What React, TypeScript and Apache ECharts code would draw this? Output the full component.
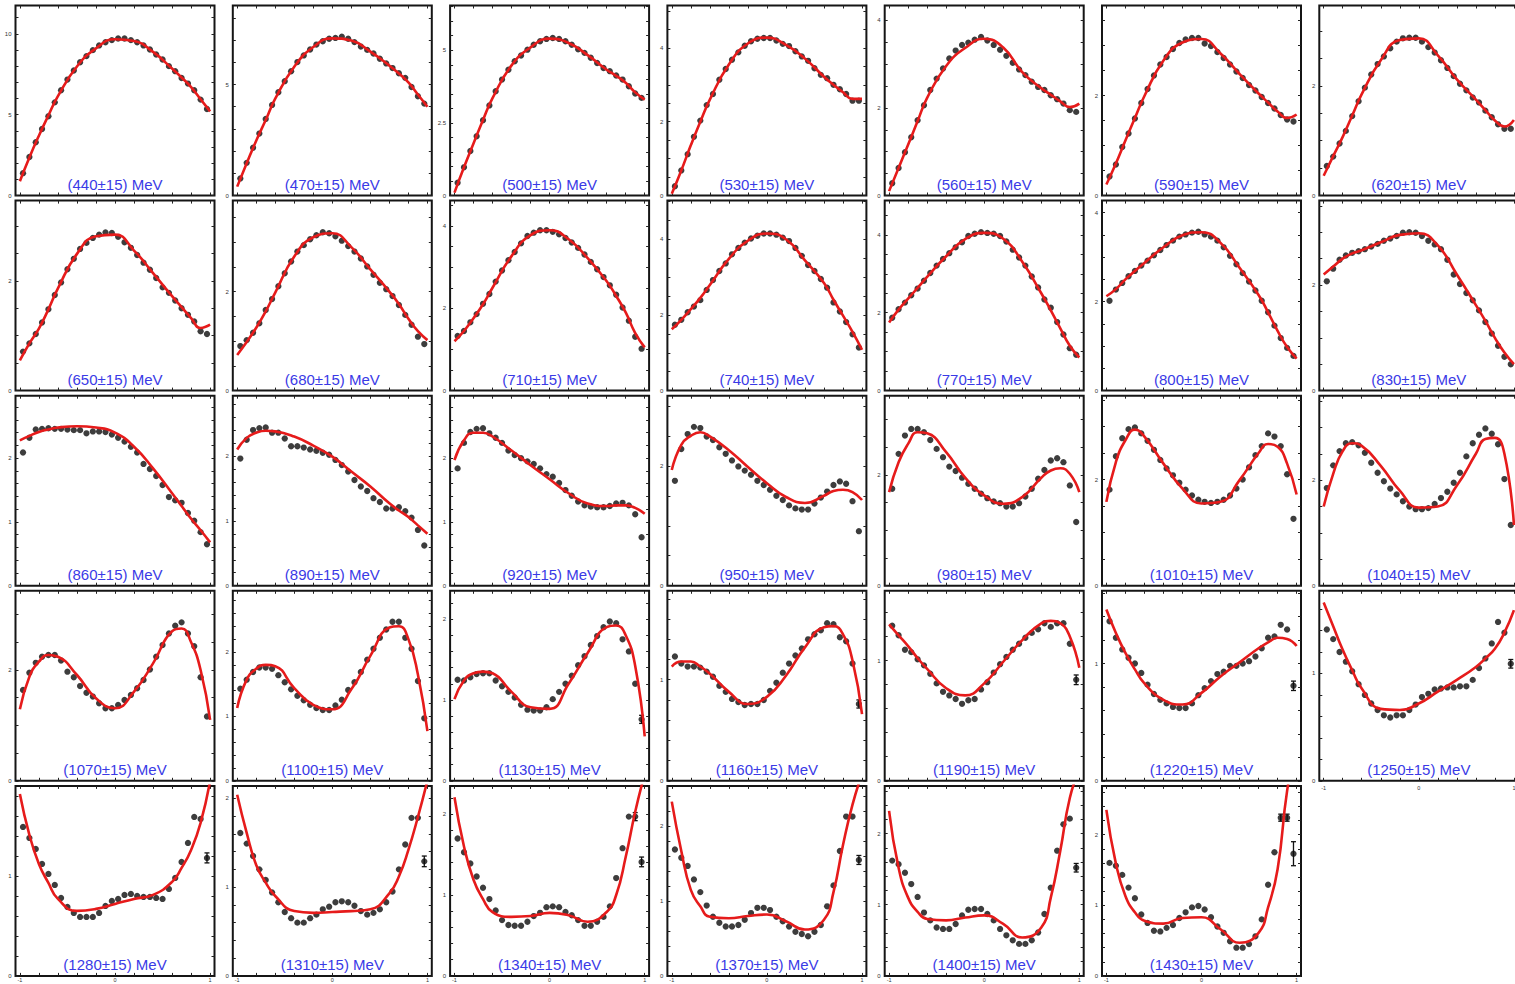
import React, { useEffect, useRef } from 'react';
import * as echarts from 'echarts';

// ---------- data ----------
const energies = [440, 470, 500, 530, 560, 590, 620, 650, 680, 710, 740, 770, 800, 830, 860, 890, 920, 950, 980, 1010, 1040, 1070, 1100, 1130, 1160, 1190, 1220, 1250, 1280, 1310, 1340, 1370, 1400, 1430];

const cosTheta = [-0.967, -0.9, -0.833, -0.767, -0.7, -0.633, -0.567, -0.5, -0.433, -0.367, -0.3, -0.233, -0.167, -0.1, -0.033, 0.033, 0.1, 0.167, 0.233, 0.3, 0.367, 0.433, 0.5, 0.567, 0.633, 0.7, 0.767, 0.833, 0.9, 0.967];
const curveX = [-1, -0.9, -0.8, -0.7, -0.6, -0.4, -0.2, 0, 0.2, 0.4, 0.6, 0.7, 0.8, 0.9, 1];

const xTickValues = [-1, -0.8, -0.6, -0.4, -0.2, 0, 0.2, 0.4, 0.6, 0.8, 1];
const xLabelValues = [-1, 0, 1];

const yMax = [11.75, 8.56, 6.54, 5.15, 4.34, 3.8, 3.47,
  3.46, 3.84, 4.62, 5.02, 4.88, 4.27, 3.6,
  2.98, 2.93, 2.98, 3.17, 3.43, 3.58, 3.6,
  3.43, 2.95, 2.35, 1.88, 1.58, 1.62, 1.77,
  1.9, 2.14, 2.35, 2.54, 2.67, 2.69];

const yLabelSets = [[0, 5, 10], [0, 5], [0, 2.5, 5], [0, 2, 4], [0, 2, 4], [0, 2], [0, 2],
  [0, 2], [0, 2], [0, 2, 4], [0, 2, 4], [0, 2, 4], [0, 2, 4], [0, 2],
  [0, 1, 2], [0, 1, 2], [0, 1, 2], [0, 2], [0, 2], [0, 2], [0, 2],
  [0, 2], [0, 1, 2], [0, 1, 2], [0, 1], [0, 1], [0, 1], [0, 1],
  [0, 1], [0, 1, 2], [0, 1, 2], [0, 1, 2], [0, 1, 2], [0, 1, 2]];

const yTickStep = [1, 1, 0.5, 0.5, 0.5, 0.5, 0.5,
  0.5, 0.5, 0.5, 0.5, 0.5, 0.5, 0.5,
  0.2, 0.2, 0.2, 0.5, 0.5, 0.5, 0.5,
  0.5, 0.2, 0.2, 0.2, 0.2, 0.2, 0.2,
  0.2, 0.2, 0.2, 0.2, 0.2, 0.2];

// measured points (30 cos-theta bins per energy bin)
const d440 = [1.38, 2.38, 3.29, 4.11, 4.90, 5.76, 6.51, 7.17, 7.73, 8.24, 8.62, 8.99, 9.28, 9.48, 9.61, 9.71, 9.71, 9.61, 9.48, 9.28, 9.03, 8.72, 8.41, 8.00, 7.69, 7.27, 6.92, 6.51, 5.93, 5.35];
const d470 = [0.77, 1.47, 2.15, 2.79, 3.45, 4.08, 4.65, 5.15, 5.60, 6.01, 6.31, 6.58, 6.80, 6.95, 7.06, 7.10, 7.15, 7.06, 6.91, 6.71, 6.56, 6.40, 6.16, 5.95, 5.74, 5.51, 5.30, 4.89, 4.47, 4.14];
const d500 = [0.44, 0.97, 1.53, 2.04, 2.59, 3.10, 3.59, 3.99, 4.33, 4.62, 4.82, 5.02, 5.19, 5.31, 5.39, 5.42, 5.39, 5.31, 5.19, 5.03, 4.91, 4.74, 4.56, 4.39, 4.28, 4.13, 3.99, 3.76, 3.51, 3.36];
const d530 = [0.25, 0.68, 1.12, 1.59, 2.03, 2.45, 2.75, 3.14, 3.43, 3.68, 3.88, 4.06, 4.18, 4.25, 4.27, 4.27, 4.20, 4.11, 4.05, 3.91, 3.77, 3.65, 3.45, 3.27, 3.18, 3.00, 2.88, 2.75, 2.57, 2.57];
const d560 = [0.28, 0.63, 0.99, 1.33, 1.72, 2.06, 2.41, 2.67, 2.90, 3.13, 3.31, 3.44, 3.49, 3.56, 3.62, 3.54, 3.44, 3.33, 3.19, 3.03, 2.88, 2.75, 2.60, 2.48, 2.41, 2.29, 2.20, 2.10, 1.95, 1.91];
const d590 = [0.38, 0.62, 0.97, 1.24, 1.54, 1.85, 2.13, 2.40, 2.62, 2.77, 2.93, 3.05, 3.12, 3.15, 3.15, 3.04, 2.99, 2.87, 2.75, 2.62, 2.48, 2.35, 2.21, 2.10, 1.97, 1.85, 1.74, 1.61, 1.52, 1.48];
const d620 = [0.54, 0.71, 0.95, 1.18, 1.45, 1.72, 1.97, 2.21, 2.40, 2.54, 2.69, 2.81, 2.87, 2.88, 2.88, 2.81, 2.71, 2.61, 2.47, 2.33, 2.18, 2.04, 1.92, 1.79, 1.70, 1.55, 1.43, 1.30, 1.22, 1.22];
const d650 = [0.71, 0.86, 1.03, 1.24, 1.48, 1.74, 1.97, 2.21, 2.40, 2.58, 2.69, 2.78, 2.84, 2.88, 2.87, 2.80, 2.70, 2.60, 2.47, 2.33, 2.20, 2.05, 1.88, 1.78, 1.64, 1.50, 1.38, 1.26, 1.08, 1.03];
const d680 = [0.90, 1.02, 1.17, 1.36, 1.63, 1.85, 2.11, 2.37, 2.61, 2.81, 2.94, 3.06, 3.14, 3.20, 3.18, 3.12, 3.03, 2.92, 2.81, 2.67, 2.51, 2.34, 2.18, 2.05, 1.91, 1.73, 1.53, 1.33, 1.09, 0.94];
const d710 = [1.33, 1.45, 1.66, 1.86, 2.11, 2.35, 2.65, 2.92, 3.17, 3.37, 3.58, 3.76, 3.84, 3.90, 3.90, 3.86, 3.80, 3.71, 3.60, 3.47, 3.31, 3.13, 2.95, 2.76, 2.56, 2.33, 2.02, 1.70, 1.31, 1.02];
const d740 = [1.74, 1.87, 2.07, 2.22, 2.39, 2.66, 2.92, 3.16, 3.36, 3.60, 3.77, 3.91, 4.02, 4.09, 4.15, 4.15, 4.12, 4.04, 3.95, 3.77, 3.56, 3.32, 3.16, 2.95, 2.72, 2.33, 2.09, 1.81, 1.49, 1.14];
const d770 = [1.87, 2.09, 2.26, 2.45, 2.62, 2.82, 3.02, 3.21, 3.38, 3.53, 3.68, 3.81, 3.97, 4.03, 4.07, 4.05, 4.03, 3.97, 3.83, 3.62, 3.42, 3.21, 2.93, 2.65, 2.34, 2.13, 1.76, 1.44, 1.09, 0.92];
const d800 = [2.02, 2.27, 2.42, 2.57, 2.69, 2.81, 2.92, 3.04, 3.16, 3.27, 3.37, 3.46, 3.51, 3.55, 3.57, 3.51, 3.46, 3.37, 3.22, 3.03, 2.84, 2.64, 2.45, 2.25, 2.02, 1.76, 1.46, 1.18, 0.96, 0.78];
const d830 = [2.07, 2.31, 2.48, 2.56, 2.61, 2.64, 2.68, 2.73, 2.78, 2.84, 2.88, 2.93, 2.99, 3.00, 2.99, 2.93, 2.84, 2.77, 2.68, 2.48, 2.20, 2.02, 1.85, 1.71, 1.52, 1.30, 1.08, 0.85, 0.64, 0.50];
const d860 = [2.09, 2.32, 2.45, 2.46, 2.47, 2.46, 2.46, 2.45, 2.44, 2.44, 2.39, 2.42, 2.42, 2.41, 2.37, 2.32, 2.26, 2.18, 2.09, 1.91, 1.83, 1.72, 1.58, 1.39, 1.34, 1.30, 1.14, 1.02, 0.84, 0.65];
const d890 = [1.96, 2.25, 2.40, 2.43, 2.44, 2.36, 2.36, 2.27, 2.15, 2.15, 2.13, 2.10, 2.08, 2.05, 2.02, 1.94, 1.86, 1.76, 1.63, 1.53, 1.46, 1.35, 1.29, 1.19, 1.19, 1.21, 1.15, 1.05, 0.86, 0.62];
const d920 = [1.84, 2.24, 2.41, 2.46, 2.47, 2.39, 2.32, 2.24, 2.12, 2.05, 2.00, 1.95, 1.91, 1.84, 1.75, 1.71, 1.61, 1.50, 1.41, 1.32, 1.26, 1.24, 1.23, 1.23, 1.25, 1.29, 1.30, 1.26, 1.12, 0.76];
const d950 = [1.75, 2.28, 2.53, 2.65, 2.63, 2.49, 2.43, 2.31, 2.20, 2.09, 1.99, 1.92, 1.85, 1.75, 1.68, 1.60, 1.50, 1.43, 1.34, 1.29, 1.27, 1.27, 1.37, 1.47, 1.57, 1.68, 1.74, 1.70, 1.41, 0.91];
const d980 = [1.75, 2.38, 2.71, 2.83, 2.83, 2.77, 2.63, 2.47, 2.32, 2.15, 2.07, 1.95, 1.84, 1.75, 1.66, 1.58, 1.52, 1.49, 1.43, 1.43, 1.49, 1.61, 1.75, 1.93, 2.09, 2.26, 2.30, 2.23, 1.81, 1.15];
const d1010 = [1.81, 2.44, 2.78, 2.95, 2.98, 2.87, 2.73, 2.56, 2.37, 2.21, 2.08, 1.94, 1.81, 1.70, 1.62, 1.58, 1.56, 1.58, 1.62, 1.70, 1.83, 2.00, 2.23, 2.46, 2.63, 2.87, 2.81, 2.63, 2.10, 1.26];
const d1040 = [1.85, 2.28, 2.55, 2.70, 2.72, 2.66, 2.52, 2.33, 2.14, 1.98, 1.84, 1.73, 1.60, 1.50, 1.45, 1.45, 1.47, 1.55, 1.66, 1.78, 1.95, 2.14, 2.45, 2.70, 2.86, 2.98, 2.88, 2.68, 2.02, 1.15];
const d1070 = [1.64, 1.95, 2.13, 2.24, 2.27, 2.27, 2.17, 1.97, 1.87, 1.71, 1.59, 1.52, 1.40, 1.31, 1.31, 1.37, 1.46, 1.55, 1.67, 1.82, 2.01, 2.24, 2.45, 2.66, 2.80, 2.86, 2.66, 2.43, 1.87, 1.16];
const d1100 = [1.43, 1.57, 1.69, 1.76, 1.76, 1.74, 1.64, 1.53, 1.42, 1.32, 1.25, 1.18, 1.13, 1.10, 1.10, 1.17, 1.26, 1.41, 1.53, 1.69, 1.88, 2.05, 2.22, 2.35, 2.47, 2.47, 2.22, 2.05, 1.55, 0.97];
const d1130 = [1.25, 1.24, 1.28, 1.32, 1.33, 1.33, 1.24, 1.17, 1.10, 1.03, 0.94, 0.88, 0.87, 0.87, 0.91, 1.01, 1.10, 1.20, 1.30, 1.43, 1.54, 1.68, 1.79, 1.90, 1.97, 1.95, 1.75, 1.60, 1.20, 0.76];
const d1160 = [1.23, 1.16, 1.13, 1.13, 1.12, 1.08, 1.03, 0.94, 0.88, 0.81, 0.78, 0.75, 0.76, 0.76, 0.80, 0.89, 0.97, 1.07, 1.16, 1.24, 1.31, 1.40, 1.45, 1.49, 1.56, 1.55, 1.42, 1.38, 1.16, 0.76];
const d1190 = [1.29, 1.21, 1.09, 1.07, 1.01, 0.96, 0.89, 0.81, 0.74, 0.71, 0.68, 0.64, 0.67, 0.68, 0.76, 0.82, 0.90, 0.97, 1.03, 1.09, 1.14, 1.19, 1.23, 1.26, 1.31, 1.28, 1.31, 1.31, 1.14, 0.84];
const d1220 = [1.36, 1.22, 1.12, 1.05, 1.00, 0.92, 0.82, 0.74, 0.69, 0.66, 0.63, 0.62, 0.62, 0.66, 0.73, 0.79, 0.85, 0.91, 0.93, 0.98, 0.98, 1.00, 1.02, 1.06, 1.13, 1.22, 1.23, 1.33, 1.29, 0.81];
const d1250 = [1.41, 1.32, 1.20, 1.11, 1.02, 0.90, 0.80, 0.72, 0.66, 0.61, 0.59, 0.61, 0.61, 0.66, 0.71, 0.78, 0.81, 0.85, 0.86, 0.87, 0.87, 0.88, 0.88, 0.94, 1.05, 1.14, 1.28, 1.48, 1.38, 1.09];
const d1280 = [1.49, 1.38, 1.27, 1.12, 1.02, 0.91, 0.78, 0.69, 0.63, 0.59, 0.59, 0.59, 0.63, 0.70, 0.75, 0.77, 0.81, 0.82, 0.80, 0.79, 0.79, 0.78, 0.77, 0.87, 0.98, 1.14, 1.33, 1.59, 1.57, 1.18];
const d1310 = [1.61, 1.49, 1.35, 1.20, 1.08, 0.94, 0.83, 0.72, 0.65, 0.60, 0.60, 0.65, 0.69, 0.75, 0.78, 0.83, 0.84, 0.83, 0.79, 0.73, 0.69, 0.71, 0.75, 0.83, 0.95, 1.20, 1.48, 1.78, 1.78, 1.29];
const d1340 = [1.70, 1.53, 1.39, 1.23, 1.09, 0.95, 0.81, 0.69, 0.63, 0.62, 0.62, 0.67, 0.74, 0.78, 0.85, 0.86, 0.85, 0.79, 0.75, 0.69, 0.62, 0.62, 0.67, 0.73, 0.86, 1.21, 1.58, 1.97, 1.97, 1.41];
const d1370 = [1.69, 1.58, 1.47, 1.29, 1.12, 0.94, 0.79, 0.71, 0.66, 0.66, 0.68, 0.75, 0.84, 0.91, 0.91, 0.88, 0.79, 0.73, 0.66, 0.59, 0.56, 0.53, 0.59, 0.68, 0.93, 1.21, 1.67, 2.13, 2.13, 1.55];
const d1400 = [1.62, 1.57, 1.45, 1.29, 1.11, 0.89, 0.78, 0.68, 0.66, 0.66, 0.73, 0.85, 0.93, 0.94, 0.94, 0.87, 0.78, 0.66, 0.57, 0.50, 0.45, 0.45, 0.50, 0.61, 0.87, 1.24, 1.76, 2.13, 2.21, 1.52];
const d1430 = [1.60, 1.56, 1.43, 1.25, 1.10, 0.87, 0.75, 0.64, 0.63, 0.68, 0.72, 0.82, 0.90, 0.97, 0.99, 0.94, 0.83, 0.70, 0.61, 0.49, 0.40, 0.40, 0.45, 0.56, 0.80, 1.29, 1.75, 2.24, 2.24, 1.73];

// fit curves, sampled at curveX
const c440 = [0.88, 2.35, 3.7, 4.95, 6.15, 7.98, 9.1, 9.66, 9.55, 8.88, 7.85, 7.3, 6.7, 5.95, 5.2];
const c470 = [0.4, 1.45, 2.47, 3.4, 4.36, 5.8, 6.69, 7.08, 6.98, 6.48, 5.85, 5.5, 5.1, 4.55, 4.0];
const c500 = [0.1, 0.97, 1.79, 2.6, 3.35, 4.48, 5.1, 5.4, 5.25, 4.83, 4.33, 4.12, 3.88, 3.55, 3.3];
const c530 = [0.05, 0.68, 1.36, 2.0, 2.6, 3.55, 4.12, 4.28, 4.08, 3.71, 3.22, 3.0, 2.8, 2.62, 2.62];
const c560 = [0.1, 0.63, 1.16, 1.7, 2.23, 2.96, 3.37, 3.58, 3.38, 2.82, 2.45, 2.3, 2.15, 2.02, 2.1];
const c590 = [0.22, 0.64, 1.1, 1.55, 1.99, 2.7, 3.06, 3.13, 2.84, 2.43, 2.04, 1.86, 1.68, 1.55, 1.62];
const c620 = [0.36, 0.72, 1.07, 1.46, 1.85, 2.47, 2.84, 2.87, 2.56, 2.12, 1.75, 1.56, 1.37, 1.26, 1.38];
const c650 = [0.55, 0.86, 1.13, 1.48, 1.86, 2.49, 2.81, 2.84, 2.55, 2.14, 1.72, 1.52, 1.32, 1.14, 1.2];
const c680 = [0.72, 0.98, 1.27, 1.6, 1.98, 2.71, 3.1, 3.18, 2.9, 2.45, 2.0, 1.75, 1.45, 1.2, 1.02];
const c710 = [1.2, 1.45, 1.76, 2.1, 2.5, 3.27, 3.78, 3.9, 3.68, 3.22, 2.66, 2.3, 1.9, 1.4, 1.05];
const c740 = [1.62, 1.87, 2.15, 2.45, 2.79, 3.48, 3.96, 4.15, 4.0, 3.44, 2.84, 2.4, 1.98, 1.55, 1.08];
const c770 = [1.75, 2.08, 2.36, 2.64, 2.92, 3.45, 3.89, 4.05, 3.9, 3.31, 2.5, 2.06, 1.6, 1.15, 0.85];
const c800 = [2.12, 2.28, 2.5, 2.69, 2.87, 3.22, 3.49, 3.56, 3.32, 2.76, 2.15, 1.76, 1.34, 0.98, 0.72];
const c830 = [2.2, 2.35, 2.5, 2.6, 2.66, 2.81, 2.95, 2.98, 2.75, 2.2, 1.62, 1.32, 1.0, 0.72, 0.5];
const c860 = [2.28, 2.35, 2.41, 2.45, 2.48, 2.5, 2.48, 2.4, 2.18, 1.84, 1.45, 1.25, 1.05, 0.87, 0.68];
const c890 = [2.1, 2.28, 2.36, 2.39, 2.38, 2.3, 2.16, 1.99, 1.76, 1.53, 1.27, 1.16, 1.06, 0.93, 0.8];
const c920 = [1.97, 2.28, 2.4, 2.4, 2.34, 2.12, 1.89, 1.67, 1.45, 1.29, 1.25, 1.26, 1.26, 1.22, 1.13];
const c950 = [1.93, 2.35, 2.5, 2.56, 2.49, 2.26, 1.98, 1.71, 1.48, 1.38, 1.5, 1.58, 1.6, 1.56, 1.43];
const c980 = [1.69, 2.23, 2.56, 2.77, 2.75, 2.41, 1.95, 1.63, 1.48, 1.6, 1.95, 2.08, 2.12, 2.02, 1.69];
const c1010 = [1.58, 2.33, 2.74, 2.94, 2.81, 2.3, 1.83, 1.55, 1.58, 1.99, 2.5, 2.67, 2.62, 2.3, 1.72];
const c1040 = [1.5, 2.12, 2.55, 2.7, 2.65, 2.27, 1.8, 1.48, 1.5, 1.9, 2.5, 2.78, 2.8, 2.5, 1.15];
const c1070 = [1.29, 1.88, 2.15, 2.27, 2.24, 1.91, 1.49, 1.31, 1.61, 2.12, 2.7, 2.75, 2.5, 2.0, 1.1];
const c1100 = [1.13, 1.57, 1.74, 1.8, 1.78, 1.44, 1.18, 1.11, 1.42, 1.94, 2.38, 2.4, 2.2, 1.65, 0.77];
const c1130 = [1.01, 1.24, 1.33, 1.35, 1.33, 1.1, 0.91, 0.89, 1.2, 1.58, 1.9, 1.92, 1.8, 1.42, 0.55];
const c1160 = [1.13, 1.18, 1.18, 1.13, 1.06, 0.88, 0.76, 0.83, 1.04, 1.32, 1.52, 1.53, 1.45, 1.19, 0.66];
const c1190 = [1.3, 1.21, 1.12, 1.02, 0.93, 0.77, 0.71, 0.81, 0.99, 1.17, 1.31, 1.33, 1.31, 1.2, 0.94];
const c1220 = [1.46, 1.26, 1.09, 0.95, 0.83, 0.69, 0.65, 0.75, 0.89, 1.01, 1.13, 1.18, 1.22, 1.21, 1.15];
const c1250 = [1.66, 1.44, 1.22, 1.03, 0.86, 0.67, 0.66, 0.72, 0.83, 0.94, 1.06, 1.14, 1.23, 1.38, 1.59];
const c1280 = [1.82, 1.41, 1.12, 0.93, 0.77, 0.65, 0.67, 0.72, 0.77, 0.81, 0.94, 1.08, 1.26, 1.53, 1.95];
const c1310 = [2.04, 1.61, 1.25, 1.05, 0.9, 0.73, 0.71, 0.72, 0.73, 0.75, 0.93, 1.12, 1.42, 1.79, 2.2];
const c1340 = [2.21, 1.6, 1.19, 0.95, 0.79, 0.73, 0.74, 0.78, 0.75, 0.67, 0.79, 1.0, 1.47, 2.03, 2.5];
const c1370 = [2.33, 1.67, 1.15, 0.93, 0.79, 0.77, 0.8, 0.82, 0.73, 0.62, 0.75, 1.12, 1.75, 2.29, 2.7];
const c1400 = [2.32, 1.52, 1.1, 0.9, 0.8, 0.78, 0.82, 0.85, 0.73, 0.54, 0.68, 1.1, 1.76, 2.5, 2.9];
const c1430 = [2.35, 1.59, 1.13, 0.9, 0.78, 0.74, 0.82, 0.83, 0.66, 0.47, 0.61, 0.97, 1.51, 2.62, 3.3];

// visible error bars: [panel index, bin index, half-width]
const errorBars = [
  [23, 29, 0.05], [24, 29, 0.04], [25, 29, 0.04], [26, 29, 0.04], [27, 29, 0.04],
  [28, 29, 0.05], [29, 29, 0.06], [30, 28, 0.05], [30, 29, 0.06], [31, 29, 0.06], [32, 29, 0.06],
  [33, 27, 0.05], [33, 28, 0.05], [33, 29, 0.17],
];

const dotSets = [d440, d470, d500, d530, d560, d590, d620, d650, d680, d710, d740, d770, d800, d830, d860, d890, d920, d950, d980, d1010, d1040, d1070, d1100, d1130, d1160, d1190, d1220, d1250, d1280, d1310, d1340, d1370, d1400, d1430];
const curveSets = [c440, c470, c500, c530, c560, c590, c620, c650, c680, c710, c740, c770, c800, c830, c860, c890, c920, c950, c980, c1010, c1040, c1070, c1100, c1130, c1160, c1190, c1220, c1250, c1280, c1310, c1340, c1370, c1400, c1430];

// ---------- layout / style ----------
const COLS = 7;
const COL0 = 15.5, COL_PITCH = 217.3;
const ROW0 = 5.5, ROW_PITCH = 195.1;
const GW = 199, GH = 190;
const XMIN = -1.046, XMAX = 1.046;
const RED = '#e61b1b';
const BLUE = '#3a3ae6';
const FONT = '"Liberation Sans", Arial, Helvetica, sans-serif';

function yTicks(max: number, step: number) {
  const out: number[] = [];
  for (let k = 0; k * step <= max + 1e-9; k++) out.push(+(k * step).toFixed(4));
  return out;
}

function buildOption() {
  const grid: any[] = [];
  const xAxis: any[] = [];
  const yAxis: any[] = [];
  const series: any[] = [];
  const texts: any[] = [];
  const tickStyle = { inside: true, length: 3, lineStyle: { color: '#222', width: 1 } };
  const labelStyle = { fontSize: 6, color: '#333', fontFamily: FONT };
  const noLine = { show: false, onZero: false };

  energies.forEach((E, i) => {
    const r = Math.floor(i / COLS);
    const c = i % COLS;
    const left = COL0 + c * COL_PITCH;
    const top = ROW0 + r * ROW_PITCH;
    grid.push({
      left, top, width: GW, height: GH, show: true,
      borderColor: '#151515', borderWidth: 2, backgroundColor: '#fff',
      containLabel: false, outerBoundsMode: 'none',
    });
    const showX = r === 4 || (r === 3 && c === 6);
    const yT = yTicks(yMax[i], yTickStep[i]);
    xAxis.push({
      gridIndex: i, type: 'value', min: XMIN, max: XMAX, position: 'bottom',
      axisLine: noLine, splitLine: { show: false },
      axisTick: { ...tickStyle, customValues: xTickValues },
      axisLabel: { show: showX, customValues: xLabelValues, ...labelStyle, fontSize: 5.5, margin: r === 4 ? 1.5 : 4 },
    });
    xAxis.push({
      gridIndex: i, type: 'value', min: XMIN, max: XMAX, position: 'top',
      axisLine: noLine, splitLine: { show: false },
      axisTick: { ...tickStyle, customValues: xTickValues },
      axisLabel: { show: false },
    });
    yAxis.push({
      gridIndex: i, type: 'value', min: 0, max: yMax[i], position: 'left',
      axisLine: noLine, splitLine: { show: false },
      axisTick: { ...tickStyle, customValues: yT },
      axisLabel: { show: true, customValues: yLabelSets[i], margin: 4, ...labelStyle },
    });
    yAxis.push({
      gridIndex: i, type: 'value', min: 0, max: yMax[i], position: 'right',
      axisLine: noLine, splitLine: { show: false },
      axisTick: { ...tickStyle, customValues: yT },
      axisLabel: { show: false },
    });
    const xi = 2 * i;
    const yi = 2 * i;
    series.push({
      type: 'scatter', xAxisIndex: xi, yAxisIndex: yi, silent: true,
      symbol: 'circle', symbolSize: 6.3, itemStyle: { color: '#0d0d0d' },
      data: dotSets[i].map((v, k) => [cosTheta[k], v]), z: 2,
    });
    const eb = errorBars.filter((e) => e[0] === i).map((e) => [cosTheta[e[1]], dotSets[i][e[1]], e[2]]);
    if (eb.length) {
      series.push({
        type: 'custom', xAxisIndex: xi, yAxisIndex: yi, silent: true, z: 2,
        data: eb,
        renderItem: (params: any, api: any) => {
          const x = api.value(0), y = api.value(1), e = api.value(2);
          const p1 = api.coord([x, y + e]);
          const p2 = api.coord([x, y - e]);
          const cap = 2.5;
          const st = { stroke: '#111', lineWidth: 1.3 };
          return {
            type: 'group',
            children: [
              { type: 'line', shape: { x1: p1[0], y1: p1[1], x2: p2[0], y2: p2[1] }, style: st },
              { type: 'line', shape: { x1: p1[0] - cap, y1: p1[1], x2: p1[0] + cap, y2: p1[1] }, style: st },
              { type: 'line', shape: { x1: p2[0] - cap, y1: p2[1], x2: p2[0] + cap, y2: p2[1] }, style: st },
            ],
          };
        },
      });
    }
    series.push({
      type: 'line', xAxisIndex: xi, yAxisIndex: yi, silent: true, clip: true,
      smooth: 0.5, showSymbol: false, symbol: 'none',
      lineStyle: { color: RED, width: 2.6 },
      data: curveSets[i].map((v, k) => [curveX[k], v]), z: 3,
    });
    texts.push({
      type: 'text', x: left + GW / 2, y: top + GH - 11, z: 10,
      style: {
        text: `(${E}±15) MeV`, fill: BLUE, font: `15px ${FONT}`,
        align: 'center', verticalAlign: 'middle',
      },
    });
  });

  return {
    animation: false,
    backgroundColor: '#ffffff',
    grid, xAxis, yAxis, series,
    graphic: { elements: texts },
  };
}

export default function App() {
  const ref = useRef<HTMLDivElement>(null);
  useEffect(() => {
    if (!ref.current) return;
    const chart = echarts.init(ref.current, undefined, { renderer: 'svg' });
    chart.setOption(buildOption() as any);
    return () => chart.dispose();
  }, []);
  return (
    <div
      ref={ref}
      style={{ position: 'fixed', left: 0, top: 0, width: 1515, height: 984, background: '#fff', overflow: 'hidden' }}
    />
  );
}
